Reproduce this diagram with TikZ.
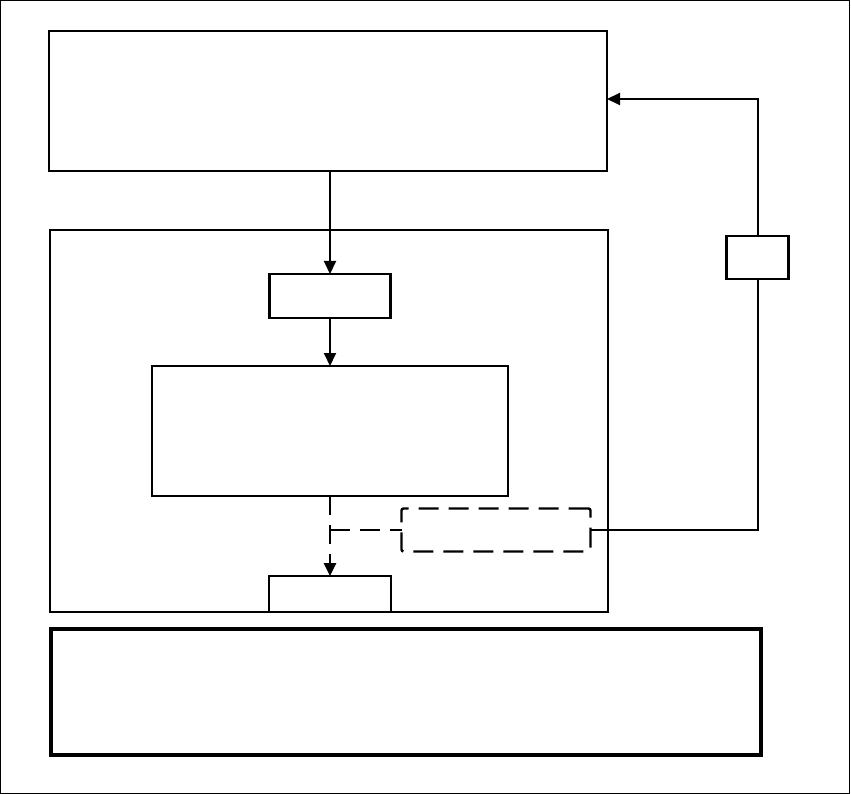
\documentclass[tikz,border=0pt]{standalone}
\usetikzlibrary{arrows.meta}
\begin{document}
\begin{tikzpicture}[x=1pt,y=-1pt,
  box/.style={draw=black,line width=2.6pt,inner sep=0pt,outer sep=0pt,fill=white},
  thickbox/.style={box,line width=3.8pt},
  dbox/.style={box,line width=2.4pt,dash pattern=on 20pt off 10pt,rounded corners=2pt},
  conn/.style={draw=black,line width=2pt},
  arr/.style={conn,-{Triangle[length=13pt,width=12pt]}},
  darr/.style={arr,line width=2.7pt,dash pattern=on 19pt off 10pt},
  dline/.style={conn,line width=2.7pt,dash pattern=on 20pt off 10pt}]
\useasboundingbox (0,0) rectangle (851,794);
\draw[line width=1.2pt] (0.6,0.6) rectangle (849.4,793.4);
% boxes
\node[box,minimum width=558pt,minimum height=140pt] (A) at (328,101) {};
\node[box,minimum width=558pt,minimum height=382pt] (B) at (329,421) {};
\node[box,minimum width=121pt,minimum height=44pt] (C) at (330,296) {};
\node[box,minimum width=356pt,minimum height=130pt] (D) at (330,431) {};
\node[dbox,minimum width=189pt,minimum height=43pt] (E) at (496,530) {};
\node[box,minimum width=122pt,minimum height=36pt] (F) at (330,594) {};
\node[thickbox,minimum width=710pt,minimum height=126pt] (G) at (406,692) {};
\node[box,minimum width=62pt,minimum height=43pt] (H) at (757.5,257.5) {};
\coordinate (Ain) at ([yshift=2pt]A.east);
% connectors
\draw[arr] (A.south -| C.north) -- (C.north);
\draw[arr] (C.south) -- (D.north);
\draw[darr] (D.south) -- (F.north);
\draw[dline] (D.south |- E.west) -- (E.west);
\draw[conn] (E.east) -- (E.east -| H.south) -- (H.south);
\draw[arr] (H.north) |- (Ain);
\end{tikzpicture}
\end{document}
